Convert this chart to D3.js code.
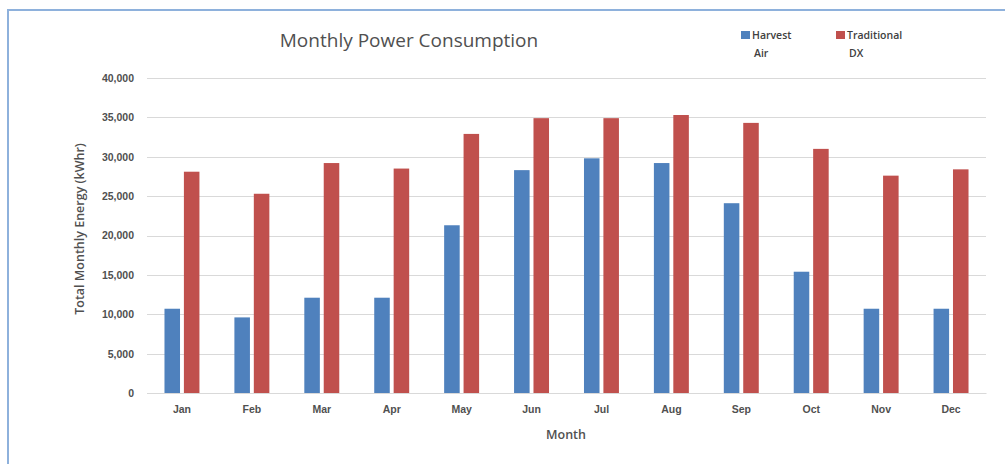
<!DOCTYPE html>
<html>
<head>
<meta charset="utf-8">
<script src="https://cdn.jsdelivr.net/npm/d3@7"></script>
<style>
  body { margin: 0; background: #fff; }
  svg { display: block; font-family: "Open Sans", "Noto Sans", sans-serif; }
  .tick text { fill: #505050; font-weight: 600; }
</style>
</head>
<body>
<div id="chart"></div>
<script>
const months = ['Jan', 'Feb', 'Mar', 'Apr', 'May', 'Jun', 'Jul', 'Aug', 'Sep', 'Oct', 'Nov', 'Dec'];
const seriesNames = ['Harvest Air', 'Traditional DX'];
const harvestAir = [10700, 9600, 12100, 12100, 21300, 28300, 29800, 29200, 24100, 15400, 10700, 10700];
const traditionalDX = [28100, 25300, 29200, 28500, 32900, 34900, 34900, 35300, 34300, 31000, 27600, 28400];
const yTicks = [0, 5000, 10000, 15000, 20000, 25000, 30000, 35000, 40000];

const colors = ['#4f81bd', '#c0504d'];
const width = 1005, height = 464;
const margin = {top: 78, right: 19, bottom: 71, left: 147};
const innerW = width - margin.left - margin.right;
const innerH = height - margin.top - margin.bottom;

const svg = d3.select('#chart').append('svg')
    .attr('width', width)
    .attr('height', height);

// chart frame (only top & left edges visible in the crop)
svg.append('rect')
    .attr('x', 8).attr('y', 10)
    .attr('width', 1100).attr('height', 600)
    .attr('fill', 'none')
    .attr('stroke', '#8eb1dc')
    .attr('stroke-width', 2);

const chart = svg.append('g')
    .attr('transform', `translate(${margin.left},${margin.top})`);

const x0 = d3.scaleBand()
    .domain(months)
    .range([0, innerW])
    .paddingInner(0.5)
    .paddingOuter(0.25);

const x1 = d3.scaleBand()
    .domain(seriesNames)
    .range([0, x0.bandwidth()])
    .paddingInner(0.2);

const y = d3.scaleLinear()
    .domain([0, 40000])
    .range([innerH, 0]);

// gridlines
chart.append('g')
    .selectAll('line')
    .data(yTicks)
  .join('line')
    .attr('x1', 0)
    .attr('x2', innerW)
    .attr('y1', d => Math.round(y(d)) + 0.5)
    .attr('y2', d => Math.round(y(d)) + 0.5)
    .attr('stroke', '#d9d9d9')
    .attr('stroke-width', 1);

const yAxis = chart.append('g')
    .call(d3.axisLeft(y).tickValues(yTicks).tickFormat(d3.format(',')).tickSize(0).tickPadding(13));
yAxis.select('.domain').remove();
yAxis.selectAll('text').attr('font-size', 10.5);

const rows = months.map((m, i) => ({month: m, values: [harvestAir[i], traditionalDX[i]]}));

chart.append('g')
    .selectAll('g')
    .data(rows)
  .join('g')
    .attr('transform', d => `translate(${x0(d.month)},0)`)
  .selectAll('rect')
    .data(d => d.values.map((v, i) => ({key: seriesNames[i], value: v, i})))
  .join('rect')
    .attr('x', d => x1(d.key))
    .attr('y', d => y(d.value))
    .attr('width', x1.bandwidth())
    .attr('height', d => innerH - y(d.value))
    .attr('fill', d => colors[d.i]);

const xAxis = chart.append('g')
    .attr('transform', `translate(0,${innerH})`)
    .call(d3.axisBottom(x0).tickSize(0).tickPadding(13));
xAxis.select('.domain').attr('stroke', '#d9d9d9');
xAxis.selectAll('text').attr('font-size', 10.5);

// axis titles
svg.append('text')
    .attr('x', 566)
    .attr('y', 439)
    .attr('text-anchor', 'middle')
    .attr('font-size', 12.5)
    .attr('font-weight', 600)
    .attr('fill', '#505050')
    .text('Month');

svg.append('text')
    .attr('transform', 'translate(84,229) rotate(-90)')
    .attr('text-anchor', 'middle')
    .attr('font-size', 12.5)
    .attr('font-weight', 600)
    .attr('fill', '#505050')
    .text('Total Monthly  Energy (kWhr)');

// title
svg.append('text')
    .attr('x', 409)
    .attr('y', 47)
    .attr('text-anchor', 'middle')
    .attr('font-size', 19)
    .attr('fill', '#505050')
    .text('Monthly Power Consumption');

// legend
const legendPos = [741, 836];
const legend = svg.append('g')
    .selectAll('g')
    .data(seriesNames)
  .join('g')
    .attr('transform', (d, i) => `translate(${legendPos[i]},31)`);

legend.append('rect')
    .attr('width', 9).attr('height', 8)
    .attr('fill', (d, i) => colors[i]);

legend.each(function(d) {
  const words = d.split(' ');
  const t = d3.select(this).append('text')
      .attr('font-size', 10.5)
      .attr('font-weight', 600)
      .attr('fill', '#404040');
  t.append('tspan').attr('x', 11).attr('y', 8).text(words[0]);
  t.append('tspan').attr('x', 13).attr('y', 26).text(words[1]);
});
</script>
</body>
</html>
